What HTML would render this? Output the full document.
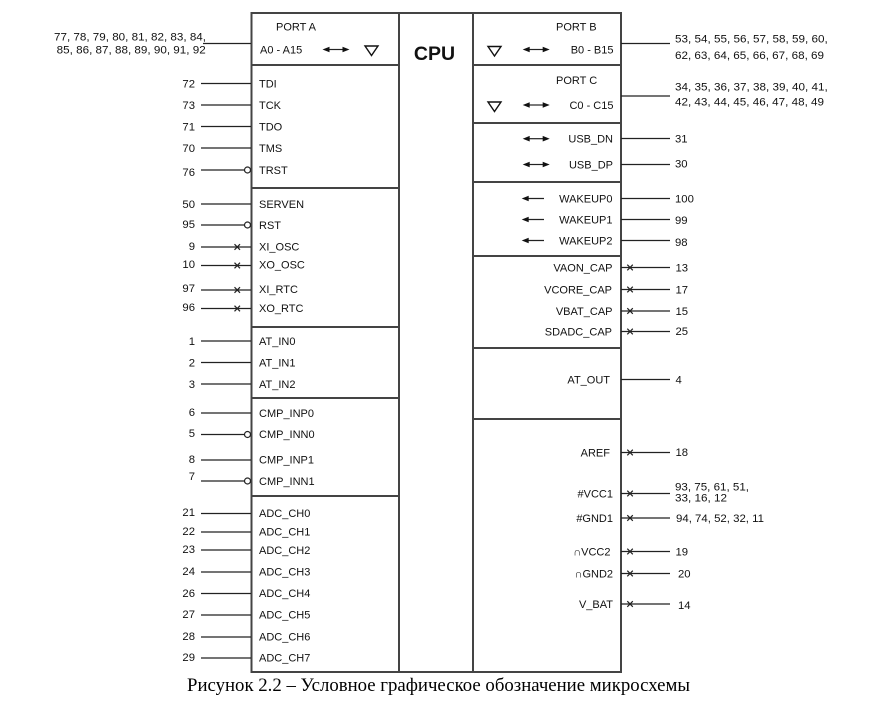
<!DOCTYPE html>
<html><head><meta charset="utf-8"><style>
html,body{margin:0;padding:0;background:#fff;}
svg{display:block;}
text{font-family:"Liberation Sans",Arial,sans-serif;font-size:11px;fill:#111;}
.n{font-size:11.3px;}
.r{text-anchor:end;}
.cap{font-family:"Liberation Serif","Times New Roman",serif;font-size:18.6px;fill:#000;}
.pl{stroke:#222;stroke-width:1.2;fill:none;}
.bx{stroke:#444;stroke-width:2;fill:none;}
.x{stroke:#222;stroke-width:1.2;}
.ah{fill:#111;stroke:none;}
.tri{fill:none;stroke:#111;stroke-width:1.4;}
</style></head><body>
<svg width="888" height="726" viewBox="0 0 888 726" xmlns="http://www.w3.org/2000/svg">
<!-- main box -->
<rect class="bx" x="251.5" y="13" width="369.5" height="659"/>
<line class="bx" x1="399" y1="13" x2="399" y2="672"/>
<line class="bx" x1="473" y1="13" x2="473" y2="672"/>
<!-- left dividers -->
<line class="bx" x1="251.5" y1="65" x2="399" y2="65"/>
<line class="bx" x1="251.5" y1="188" x2="399" y2="188"/>
<line class="bx" x1="251.5" y1="327" x2="399" y2="327"/>
<line class="bx" x1="251.5" y1="398" x2="399" y2="398"/>
<line class="bx" x1="251.5" y1="496" x2="399" y2="496"/>
<!-- right dividers -->
<line class="bx" x1="473" y1="65" x2="621" y2="65"/>
<line class="bx" x1="473" y1="123" x2="621" y2="123"/>
<line class="bx" x1="473" y1="182" x2="621" y2="182"/>
<line class="bx" x1="473" y1="256" x2="621" y2="256"/>
<line class="bx" x1="473" y1="348" x2="621" y2="348"/>
<line class="bx" x1="473" y1="419" x2="621" y2="419"/>

<!-- CPU -->
<text x="434.5" y="60" style="font-size:19.5px;font-weight:bold;text-anchor:middle;fill:#111">CPU</text>

<!-- PORT A -->
<text x="276" y="30.7">PORT A</text>
<text x="260" y="53.3">A0 - A15</text>
<line class="pl" x1="328" y1="49.5" x2="344" y2="49.5"/>
<polygon class="ah" points="322.5,49.5 329.5,46.7 329.5,52.3"/>
<polygon class="ah" points="349.5,49.5 342.5,46.7 342.5,52.3"/>
<polygon class="tri" points="365,46 378,46 371.5,55.5"/>
<line class="pl" x1="203" y1="43.5" x2="251" y2="43.5"/>
<text class="n r" x="206" y="40.7" textLength="152" lengthAdjust="spacingAndGlyphs">77, 78, 79, 80, 81, 82, 83, 84,</text>
<text class="n r" x="205.7" y="53.3" textLength="149" lengthAdjust="spacingAndGlyphs">85, 86, 87, 88, 89, 90, 91, 92</text>

<!-- left pins -->
<g>
<line class="pl" x1="201" y1="83.5" x2="251" y2="83.5"/><text x="259" y="87.5">TDI</text><text class="n r" x="195" y="87.5">72</text>
<line class="pl" x1="201" y1="105" x2="251" y2="105"/><text x="259" y="109">TCK</text><text class="n r" x="195" y="109">73</text>
<line class="pl" x1="201" y1="126.5" x2="251" y2="126.5"/><text x="259" y="130.5">TDO</text><text class="n r" x="195" y="130.5">71</text>
<line class="pl" x1="201" y1="148" x2="251" y2="148"/><text x="259" y="152">TMS</text><text class="n r" x="195" y="152">70</text>
<line class="pl" x1="201" y1="170" x2="244.5" y2="170"/><circle class="pl" cx="247.5" cy="170" r="3" fill="#fff"/><text x="259" y="174">TRST</text><text class="n r" x="195" y="176">76</text>

<line class="pl" x1="201" y1="204" x2="251" y2="204"/><text x="259" y="208">SERVEN</text><text class="n r" x="195" y="208">50</text>
<line class="pl" x1="201" y1="225" x2="244.5" y2="225"/><circle class="pl" cx="247.5" cy="225" r="3" fill="#fff"/><text x="259" y="229">RST</text><text class="n r" x="195" y="228">95</text>
<line class="pl" x1="201" y1="247" x2="251" y2="247"/><path class="x" d="M234.5,244.2 L240,249.8 M234.5,249.8 L240,244.2"/><text x="259" y="250.5">XI_OSC</text><text class="n r" x="195" y="250">9</text>
<line class="pl" x1="201" y1="265.5" x2="251" y2="265.5"/><path class="x" d="M234.5,262.7 L240,268.3 M234.5,268.3 L240,262.7"/><text x="259" y="268.5">XO_OSC</text><text class="n r" x="195" y="268">10</text>
<line class="pl" x1="201" y1="290" x2="251" y2="290"/><path class="x" d="M234.5,287.2 L240,292.8 M234.5,292.8 L240,287.2"/><text x="259" y="293">XI_RTC</text><text class="n r" x="195" y="292">97</text>
<line class="pl" x1="201" y1="308.5" x2="251" y2="308.5"/><path class="x" d="M234.5,305.7 L240,311.3 M234.5,311.3 L240,305.7"/><text x="259" y="312">XO_RTC</text><text class="n r" x="195" y="311">96</text>

<line class="pl" x1="201" y1="341" x2="251" y2="341"/><text x="259" y="345">AT_IN0</text><text class="n r" x="195" y="345">1</text>
<line class="pl" x1="201" y1="362.5" x2="251" y2="362.5"/><text x="259" y="366.5">AT_IN1</text><text class="n r" x="195" y="366.5">2</text>
<line class="pl" x1="201" y1="384" x2="251" y2="384"/><text x="259" y="388">AT_IN2</text><text class="n r" x="195" y="388">3</text>

<line class="pl" x1="201" y1="413" x2="251" y2="413"/><text x="259" y="417">CMP_INP0</text><text class="n r" x="195" y="416">6</text>
<line class="pl" x1="201" y1="434.5" x2="244.5" y2="434.5"/><circle class="pl" cx="247.5" cy="434.5" r="3" fill="#fff"/><text x="259" y="438">CMP_INN0</text><text class="n r" x="195" y="437">5</text>
<line class="pl" x1="201" y1="460" x2="251" y2="460"/><text x="259" y="463.5">CMP_INP1</text><text class="n r" x="195" y="463">8</text>
<line class="pl" x1="201" y1="481" x2="244.5" y2="481"/><circle class="pl" cx="247.5" cy="481" r="3" fill="#fff"/><text x="259" y="485">CMP_INN1</text><text class="n r" x="195" y="480">7</text>

<line class="pl" x1="201" y1="513.5" x2="251" y2="513.5"/><text x="259" y="517">ADC_CH0</text><text class="n r" x="195" y="516">21</text>
<line class="pl" x1="201" y1="532" x2="251" y2="532"/><text x="259" y="535.5">ADC_CH1</text><text class="n r" x="195" y="535">22</text>
<line class="pl" x1="201" y1="550" x2="251" y2="550"/><text x="259" y="554">ADC_CH2</text><text class="n r" x="195" y="553">23</text>
<line class="pl" x1="201" y1="572" x2="251" y2="572"/><text x="259" y="575.5">ADC_CH3</text><text class="n r" x="195" y="575">24</text>
<line class="pl" x1="201" y1="593.5" x2="251" y2="593.5"/><text x="259" y="597">ADC_CH4</text><text class="n r" x="195" y="597">26</text>
<line class="pl" x1="201" y1="615" x2="251" y2="615"/><text x="259" y="618.5">ADC_CH5</text><text class="n r" x="195" y="618">27</text>
<line class="pl" x1="201" y1="637" x2="251" y2="637"/><text x="259" y="640.5">ADC_CH6</text><text class="n r" x="195" y="640">28</text>
<line class="pl" x1="201" y1="658" x2="251" y2="658"/><text x="259" y="661.5">ADC_CH7</text><text class="n r" x="195" y="661">29</text>
</g>

<!-- PORT B -->
<text x="556" y="30.7">PORT B</text>
<text class="r" x="613.5" y="53.3">B0 - B15</text>
<polygon class="tri" points="488,46.5 501,46.5 494.5,56"/>
<line class="pl" x1="528" y1="49.5" x2="544" y2="49.5"/>
<polygon class="ah" points="522.7,49.5 529.7,46.7 529.7,52.3"/>
<polygon class="ah" points="549.7,49.5 542.7,46.7 542.7,52.3"/>
<line class="pl" x1="621" y1="43.5" x2="670" y2="43.5"/>
<text class="n" x="675" y="42.3" textLength="152.7" lengthAdjust="spacingAndGlyphs">53, 54, 55, 56, 57, 58, 59, 60,</text>
<text class="n" x="675" y="59" textLength="149" lengthAdjust="spacingAndGlyphs">62, 63, 64, 65, 66, 67, 68, 69</text>

<!-- PORT C -->
<text x="556" y="84">PORT C</text>
<text class="r" x="613.5" y="109">C0 - C15</text>
<polygon class="tri" points="488,102 501,102 494.5,111.5"/>
<line class="pl" x1="528" y1="105" x2="544" y2="105"/>
<polygon class="ah" points="522.7,105 529.7,102.2 529.7,107.8"/>
<polygon class="ah" points="549.7,105 542.7,102.2 542.7,107.8"/>
<line class="pl" x1="621" y1="96" x2="670" y2="96"/>
<text class="n" x="675" y="90.3" textLength="152.7" lengthAdjust="spacingAndGlyphs">34, 35, 36, 37, 38, 39, 40, 41,</text>
<text class="n" x="675" y="105.7" textLength="149" lengthAdjust="spacingAndGlyphs">42, 43, 44, 45, 46, 47, 48, 49</text>

<!-- USB -->
<line class="pl" x1="528" y1="138.7" x2="544" y2="138.7"/>
<polygon class="ah" points="522.7,138.7 529.7,135.9 529.7,141.5"/>
<polygon class="ah" points="549.7,138.7 542.7,135.9 542.7,141.5"/>
<text class="r" x="613" y="142.5">USB_DN</text>
<line class="pl" x1="621" y1="138.5" x2="670" y2="138.5"/><text class="n" x="675" y="142.5">31</text>
<line class="pl" x1="528" y1="164.5" x2="544" y2="164.5"/>
<polygon class="ah" points="522.7,164.5 529.7,161.7 529.7,167.3"/>
<polygon class="ah" points="549.7,164.5 542.7,161.7 542.7,167.3"/>
<text class="r" x="613" y="168.5">USB_DP</text>
<line class="pl" x1="621" y1="164.5" x2="670" y2="164.5"/><text class="n" x="675" y="167.5">30</text>

<!-- WAKEUP -->
<line class="pl" x1="527" y1="198.5" x2="544" y2="198.5"/><polygon class="ah" points="521.7,198.5 528.7,195.7 528.7,201.3"/>
<text class="r" x="612.5" y="202.5">WAKEUP0</text>
<line class="pl" x1="621" y1="198.5" x2="670" y2="198.5"/><text class="n" x="675" y="202.3">100</text>
<line class="pl" x1="527" y1="219.5" x2="544" y2="219.5"/><polygon class="ah" points="521.7,219.5 528.7,216.7 528.7,222.3"/>
<text class="r" x="612.5" y="223.3">WAKEUP1</text>
<line class="pl" x1="621" y1="219.5" x2="670" y2="219.5"/><text class="n" x="675" y="224">99</text>
<line class="pl" x1="527" y1="240.5" x2="544" y2="240.5"/><polygon class="ah" points="521.7,240.5 528.7,237.7 528.7,243.3"/>
<text class="r" x="612.5" y="244.3">WAKEUP2</text>
<line class="pl" x1="621" y1="240.5" x2="670" y2="240.5"/><text class="n" x="675" y="246">98</text>

<!-- CAP pins -->
<text class="r" x="612.5" y="271.3">VAON_CAP</text>
<line class="pl" x1="621" y1="267.5" x2="670" y2="267.5"/><path class="x" d="M627.3,264.7 L632.8,270.3 M627.3,270.3 L632.8,264.7"/><text class="n" x="675.5" y="271.3">13</text>
<text class="r" x="612" y="293.3">VCORE_CAP</text>
<line class="pl" x1="621" y1="289.5" x2="670" y2="289.5"/><path class="x" d="M627.3,286.7 L632.8,292.3 M627.3,292.3 L632.8,286.7"/><text class="n" x="675.5" y="293.3">17</text>
<text class="r" x="612.5" y="315">VBAT_CAP</text>
<line class="pl" x1="621" y1="311" x2="670" y2="311"/><path class="x" d="M627.3,308.2 L632.8,313.8 M627.3,313.8 L632.8,308.2"/><text class="n" x="675.5" y="315">15</text>
<text class="r" x="612" y="335.5">SDADC_CAP</text>
<line class="pl" x1="621" y1="331.5" x2="670" y2="331.5"/><path class="x" d="M627.3,328.7 L632.8,334.3 M627.3,334.3 L632.8,328.7"/><text class="n" x="675.5" y="335">25</text>

<!-- AT_OUT -->
<text class="r" x="610" y="383.3">AT_OUT</text>
<line class="pl" x1="621" y1="379.5" x2="670" y2="379.5"/><text class="n" x="675.5" y="383.3">4</text>

<!-- power -->
<text class="r" x="610" y="456.5">AREF</text>
<line class="pl" x1="621" y1="452.5" x2="670" y2="452.5"/><path class="x" d="M627.3,449.7 L632.8,455.3 M627.3,455.3 L632.8,449.7"/><text class="n" x="675.5" y="456">18</text>

<text class="r" x="613" y="497.3">#VCC1</text>
<line class="pl" x1="621" y1="493.5" x2="670" y2="493.5"/><path class="x" d="M627.3,490.7 L632.8,496.3 M627.3,496.3 L632.8,490.7"/>
<text class="n" x="675" y="490.7" textLength="74" lengthAdjust="spacingAndGlyphs">93, 75, 61, 51,</text>
<text class="n" x="675" y="501.3" textLength="52" lengthAdjust="spacingAndGlyphs">33, 16, 12</text>

<text class="r" x="613" y="522">#GND1</text>
<line class="pl" x1="621" y1="518" x2="670" y2="518"/><path class="x" d="M627.3,515.2 L632.8,520.8 M627.3,520.8 L632.8,515.2"/>
<text class="n" x="676" y="522" textLength="88" lengthAdjust="spacingAndGlyphs">94, 74, 52, 32, 11</text>

<text class="r" x="610.5" y="555.5">∩VCC2</text>
<line class="pl" x1="621" y1="551.5" x2="670" y2="551.5"/><path class="x" d="M627.3,548.7 L632.8,554.3 M627.3,554.3 L632.8,548.7"/><text class="n" x="675.5" y="555.5">19</text>

<text class="r" x="613" y="577.3">∩GND2</text>
<line class="pl" x1="621" y1="573.5" x2="670" y2="573.5"/><path class="x" d="M627.3,570.7 L632.8,576.3 M627.3,576.3 L632.8,570.7"/><text class="n" x="678" y="577.3">20</text>

<text class="r" x="613" y="608">V_BAT</text>
<line class="pl" x1="621" y1="604" x2="670" y2="604"/><path class="x" d="M627.3,601.2 L632.8,606.8 M627.3,606.8 L632.8,601.2"/><text class="n" x="678" y="609">14</text>

<!-- caption -->
<text class="cap" x="187" y="691" textLength="503" lengthAdjust="spacingAndGlyphs">Рисунок 2.2 – Условное графическое обозначение микросхемы</text>
</svg>
</body></html>
